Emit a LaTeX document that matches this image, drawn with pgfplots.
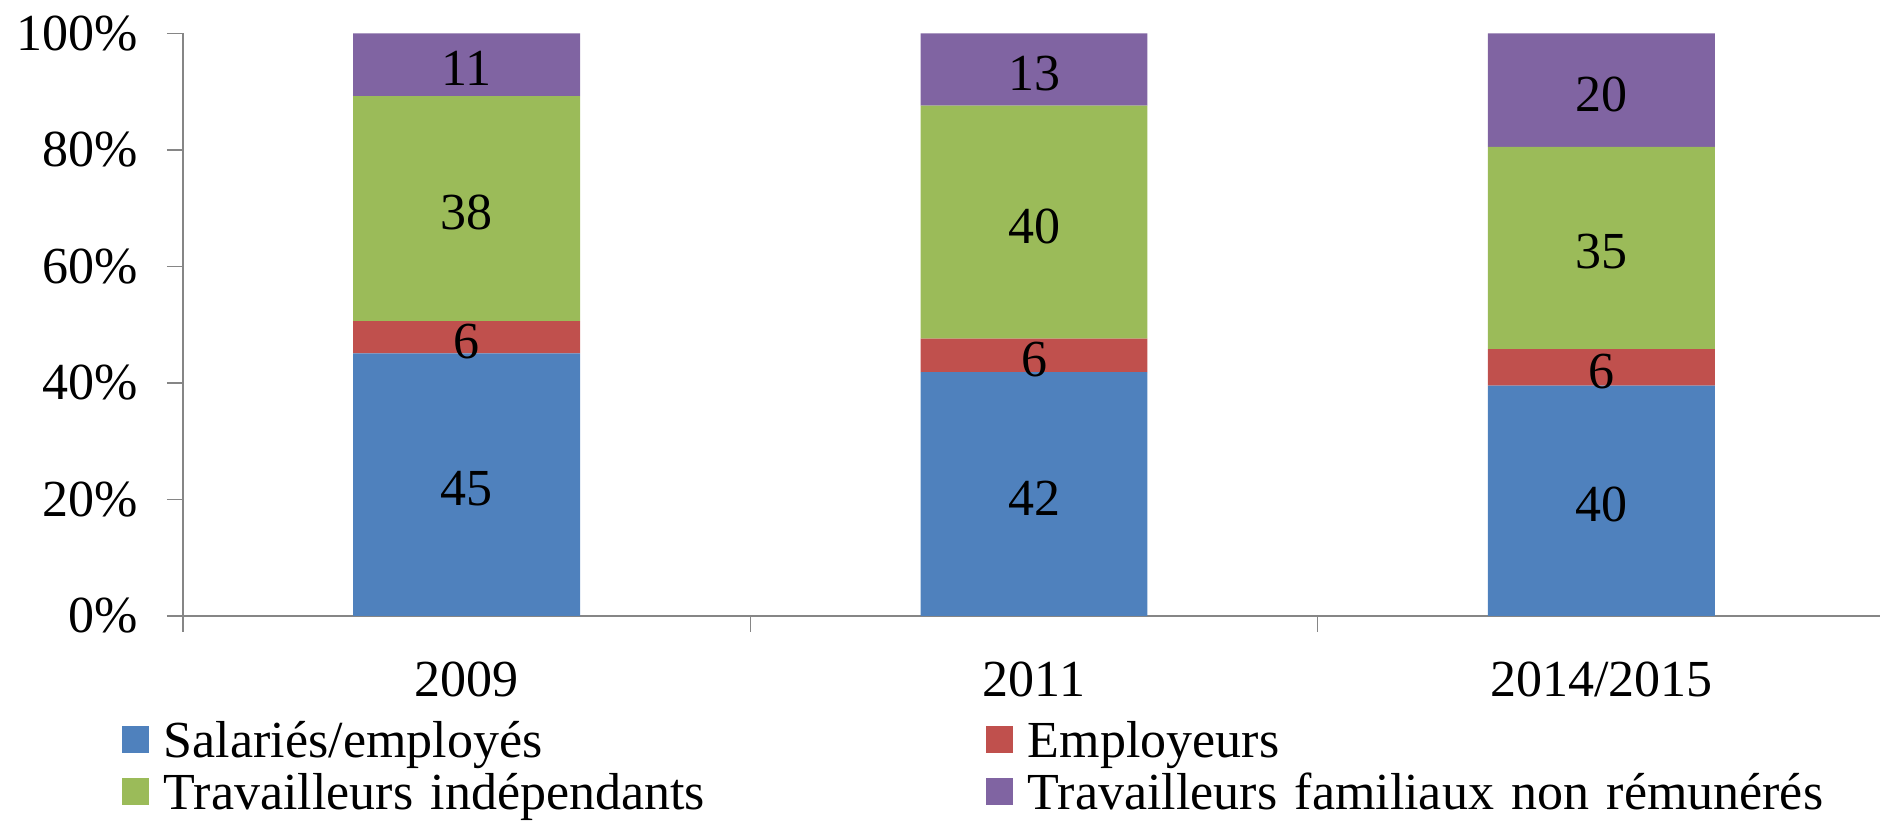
\documentclass[border=0pt]{standalone}
\usepackage{pgfplots}
\pgfplotsset{compat=1.18}
\usepackage{fontspec}
\setmainfont{Liberation Serif}
\definecolor{cblue}{HTML}{4F81BD}
\definecolor{cred}{HTML}{C0504D}
\definecolor{cgreen}{HTML}{9BBB59}
\definecolor{cpurple}{HTML}{8064A2}
\definecolor{axgray}{HTML}{868686}
\newcommand\chartfont{\fontsize{26}{31}\selectfont}
\pgfplotsset{
  sq/.style={legend image code/.code={\fill[##1, draw=none] (0pt,-4.5pt) rectangle (13.5pt,9pt); \path (21pt,0pt);}},
  common/.style={
    scale only axis, width=851pt, height=291.3pt,
    xmin=-0.5, xmax=2.5, ymin=0, ymax=100,
  }
}
\begin{document}
\chartfont
\begin{tikzpicture}
\begin{axis}[
  common,
  ybar stacked, bar width=0.4,
  axis x line*=bottom, axis y line*=left,
  axis line style={draw=axgray, line width=0.75pt},
  tick style={draw=axgray, line width=0.75pt},
  tick align=outside, major tick length=8pt,
  ytick={0,20,40,60,80,100},
  yticklabels={0\%,20\%,40\%,60\%,80\%,100\%},
  yticklabel style={anchor=east, inner sep=0pt, xshift=-14.25pt, font=\chartfont},
  xtick={-0.5,0.5,1.5,2.5}, xticklabels={},
  extra x ticks={0,1,2},
  extra x tick labels={2009,2011,2014/2015},
  extra x tick style={major tick length=0pt, tick style={draw=none}},
  xticklabel style={anchor=north, inner sep=0pt, yshift=-23pt, font=\chartfont},
  legend columns=2, legend cell align=left,
  legend style={at={(0,0)}, anchor=north west, xshift=-30.5pt, yshift=-52pt,
    draw=none, fill=none, inner sep=0pt, outer sep=0pt, row sep=1.5pt, column sep=0pt,
    font=\chartfont,
    nodes={inner sep=0pt, text height=19pt, text depth=5.5pt, text width=411pt, align=left, anchor=west}},
]
\addplot[fill=cblue, draw=none, sq] coordinates {(0,45.07) (1,41.87) (2,39.53)};
\addplot[fill=cred, draw=none, sq] coordinates {(0,5.55) (1,5.74) (2,6.27)};
\addplot[fill=cgreen, draw=none, sq] coordinates {(0,38.62) (1,40.01) (2,34.74)};
\addplot[fill=cpurple, draw=none, sq] coordinates {(0,10.76) (1,12.38) (2,19.46)};
\legend{Salariés/employés, Employeurs, Travailleurs indépendants, Travailleurs familiaux non rémunérés}
\end{axis}
\begin{axis}[common, hide axis]
\addplot[draw=none, mark=none, nodes near coords, point meta=explicit symbolic,
  nodes near coords style={anchor=center, inner sep=0pt, yshift=-2pt, font=\chartfont, text=black}]
  coordinates {
  (0,22.54) [45] (0,47.85) [6] (0,69.93) [38] (0,94.62) [11]
  (1,20.94) [42] (1,44.74) [6] (1,67.62) [40] (1,93.81) [13]
  (2,19.77) [40] (2,42.67) [6] (2,63.17) [35] (2,90.27) [20]
  };
\end{axis}
\pgfresetboundingbox
\path[use as bounding box] (-91.5pt,-103pt) rectangle (848.5pt,308pt);
\end{tikzpicture}
\end{document}
